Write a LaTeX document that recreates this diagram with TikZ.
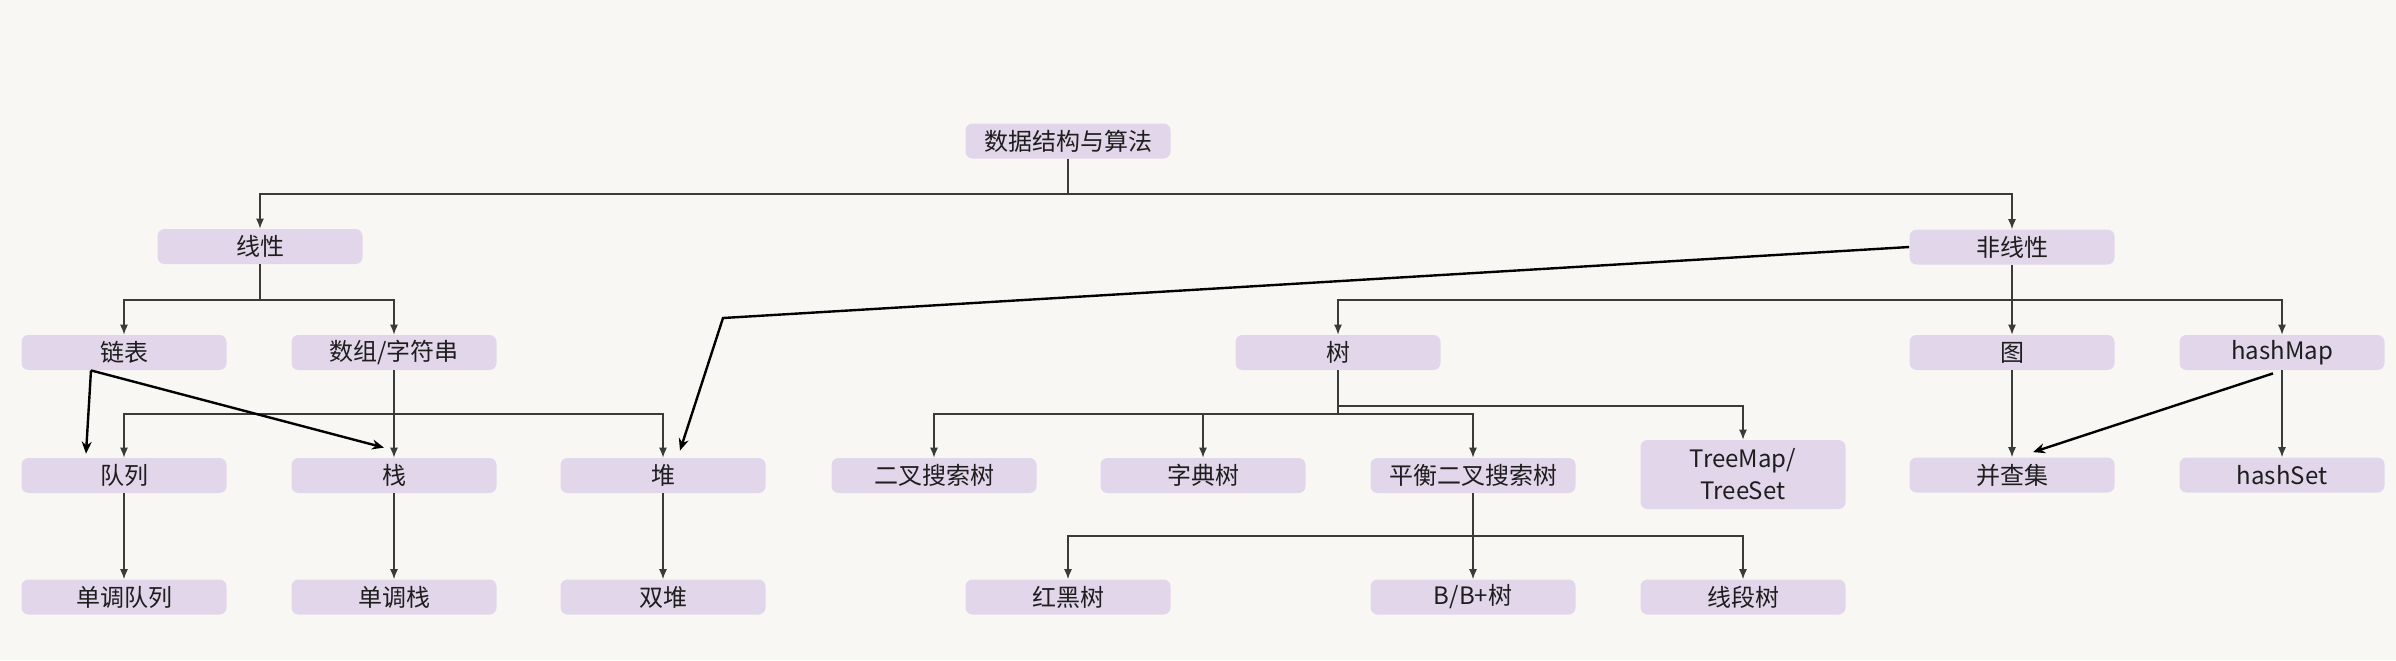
\documentclass[tikz,border=0pt]{standalone}
\usepackage{fontspec}
\setmainfont{Noto Sans CJK SC}
\usetikzlibrary{arrows.meta,calc}
\definecolor{bg}{HTML}{F8F7F4}
\definecolor{boxc}{HTML}{E2D6EA}
\definecolor{linec}{HTML}{3A3A3A}
\definecolor{txt}{HTML}{1E1E1E}
\begin{document}
\begin{tikzpicture}[x=0.5pt,y=-0.5pt,
  box/.style={fill=boxc,rounded corners=3.5pt,minimum width=102.5pt,minimum height=17.5pt,inner sep=0pt,font=\fontsize{12}{16}\selectfont,text=txt,align=center},
  conn/.style={draw=linec,line width=0.6pt,-{Latex[length=5pt,width=4pt]}},
  strong/.style={draw=black,line width=1.2pt,-{Stealth[length=6pt,width=5pt]}}]
\fill[bg] (0,0) rectangle (2396,660);
\useasboundingbox (0,0) rectangle (2396,660);
% nodes
\node[box] (root) at (1068,141) {数据结构与算法};
\node[box] (lin) at (260,246.5) {线性};
\node[box] (nonlin) at (2012,247) {非线性};
\node[box] (ll) at (124,352.5) {链表};
\node[box] (arr) at (394,352.5) {数组/字符串};
\node[box] (tree) at (1338,352.5) {树};
\node[box] (graph) at (2012,352.5) {图};
\node[box] (hmap) at (2282,352.5) {hashMap};
\node[box] (queue) at (124,475.5) {队列};
\node[box] (stack) at (394,475.5) {栈};
\node[box] (heap) at (663,475.5) {堆};
\node[box] (bst) at (934,475.5) {二叉搜索树};
\node[box] (trie) at (1203,475.5) {字典树};
\node[box] (bal) at (1473,475.5) {平衡二叉搜索树};
\node[box,minimum height=34.5pt] (tmap) at (1743,474.5) {TreeMap/\\TreeSet};
\node[box] (uf) at (2012,475) {并查集};
\node[box] (hset) at (2282,475) {hashSet};
\node[box] (mq) at (124,597) {单调队列};
\node[box] (ms) at (394,597) {单调栈};
\node[box] (dh) at (663,597) {双堆};
\node[box] (rb) at (1068,597) {红黑树};
\node[box] (bt) at (1473,597) {B/B+树};
\node[box] (seg) at (1743,597) {线段树};
% bus levels
\coordinate (y1) at (0,194);
\coordinate (y2) at (0,300);
\coordinate (y3) at (0,414);
\coordinate (y3b) at (0,406);
\coordinate (y4) at (0,536);
\coordinate (bend) at (723,318);
% thin connectors
\draw[conn] (root.south) -- (root.south |- y1) -| (lin.north);
\draw[conn] (root.south) -- (root.south |- y1) -| (nonlin.north);
\draw[conn] (lin.south) -- (lin.south |- y2) -| (ll.north);
\draw[conn] (lin.south) -- (lin.south |- y2) -| (arr.north);
\draw[conn] (nonlin.south) -- (nonlin.south |- y2) -| (tree.north);
\draw[conn] (nonlin.south) -- (graph.north);
\draw[conn] (nonlin.south) -- (nonlin.south |- y2) -| (hmap.north);
\draw[conn] (arr.south) -- (arr.south |- y3) -| (queue.north);
\draw[conn] (arr.south) -- (stack.north);
\draw[conn] (arr.south) -- (arr.south |- y3) -| (heap.north);
\draw[conn] (tree.south) -- (tree.south |- y3) -| (bst.north);
\draw[conn] (tree.south) -- (tree.south |- y3) -| (trie.north);
\draw[conn] (tree.south) -- (tree.south |- y3) -| (bal.north);
\draw[conn] (tree.south) -- (tree.south |- y3b) -| (tmap.north);
\draw[conn] (queue.south) -- (mq.north);
\draw[conn] (stack.south) -- (ms.north);
\draw[conn] (heap.south) -- (dh.north);
\draw[conn] (bal.south) -- (bal.south |- y4) -| (rb.north);
\draw[conn] (bal.south) -- (bt.north);
\draw[conn] (bal.south) -- (bal.south |- y4) -| (seg.north);
\draw[conn] (graph.south) -- (uf.north);
\draw[conn] (hmap.south) -- (hset.north);
% bold connectors
\draw[strong] ($(ll.south)+(-33,0)$) -- ($(queue.north)+(-38,-4)$);
\draw[strong] ($(ll.south)+(-33,0)$) -- ($(stack.north)+(-10,-10)$);
\draw[strong] (nonlin.west) -- (bend) -- ($(heap.north)+(17,-7)$);
\draw[strong] ($(hmap.south)+(-9,3)$) -- ($(uf.north)+(21,-5)$);
\end{tikzpicture}
\end{document}
